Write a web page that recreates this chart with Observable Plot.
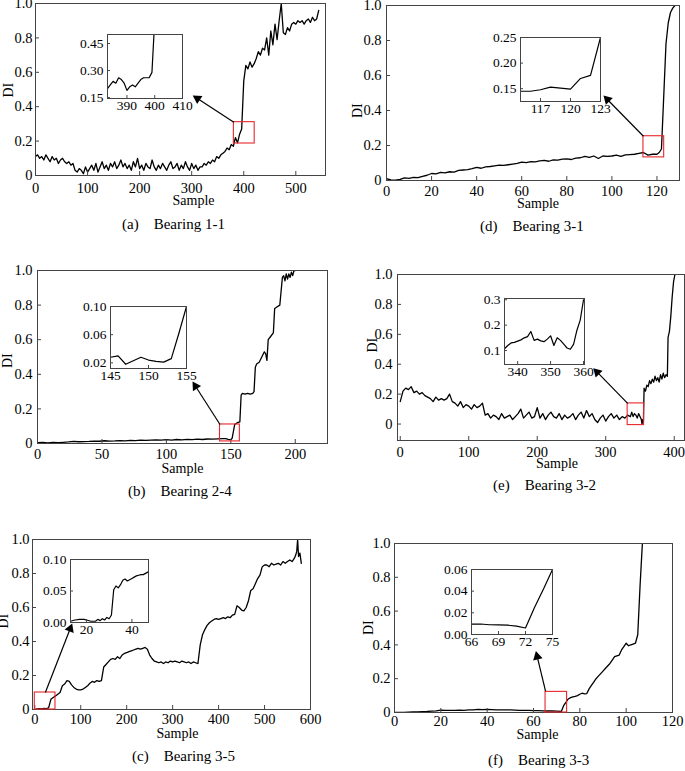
<!DOCTYPE html>
<html>
<head>
<meta charset="utf-8">
<script src="https://cdn.jsdelivr.net/npm/d3@7"></script>
<script src="https://cdn.jsdelivr.net/npm/@observablehq/plot@0.6"></script>
<style>
  body { margin: 0; background: #fff; overflow: hidden; }
  #fig { position: relative; width: 685px; height: 771px; overflow: hidden; font-family: "Liberation Serif", "Times New Roman", serif; }
  .cap { position: absolute; font-size: 15px; line-height: 15px; white-space: pre; color: #000; }
</style>
</head>
<body>
<div id="fig"></div>
<script>
// ---- Bearing 1-1 (a) ----
const a_step = 4
const a_di = [
  0.11,0.12,0.10,0.11,0.09,0.12,0.10,0.08,0.11,0.09,
  0.10,0.07,0.09,0.10,0.08,0.07,0.08,0.06,0.07,0.03,
  0.02,0.04,0.03,0.01,0.05,0.02,0.04,0.06,0.03,0.07,
  0.02,0.05,0.08,0.04,0.06,0.03,0.07,0.05,0.08,0.04,
  0.06,0.09,0.05,0.07,0.04,0.06,0.03,0.08,0.05,0.10,
  0.04,0.06,0.03,0.07,0.05,0.04,0.09,0.05,0.03,0.06,
  0.04,0.07,0.05,0.03,0.06,0.08,0.04,0.05,0.07,0.03,
  0.06,0.04,0.08,0.05,0.03,0.07,0.04,0.06,0.03,0.05,
  0.05,0.07,0.06,0.08,0.07,0.09,0.08,0.11,0.10,0.12,
  0.13,0.14,0.16,0.15,0.18,0.17,0.22,0.19,0.24,0.27,
  0.55,0.64,0.62,0.66,0.63,0.65,0.68,0.72,0.70,0.74,
  0.73,0.80,0.70,0.84,0.76,0.88,0.79,0.90,1.00,0.83,
  0.82,0.86,0.84,0.88,0.89,0.88,0.90,0.89,0.90,0.88,
  0.90,0.91,0.89,0.92,0.90,0.91,0.96]
const ai_x = [383,384,385,386,387,388,389,390,391,392,393,394,395,396,397,398,399,400,401]
const ai_y = [0.20,0.22,0.24,0.23,0.26,0.25,0.23,0.19,0.21,0.22,0.21,0.23,0.25,0.26,0.26,0.26,0.29,0.58,0.62]

// ---- Bearing 3-1 (d) ----
const d_step = 2
const d_di = [
  0.010,0.004,0.002,0.006,0.015,0.012,0.018,0.016,0.024,0.030,
  0.040,0.038,0.046,0.044,0.050,0.048,0.058,0.060,0.062,0.068,
  0.075,0.070,0.078,0.080,0.084,0.088,0.086,0.090,0.094,0.098,
  0.105,0.102,0.108,0.106,0.112,0.115,0.110,0.118,0.116,0.122,
  0.124,0.120,0.128,0.130,0.138,0.132,0.140,0.126,0.140,0.138,
  0.140,0.145,0.138,0.146,0.148,0.150,0.155,0.160]
const d_tailX = [116,118,120,121,122,124,125,126,127,128]
const d_tailY = [0.145,0.15,0.15,0.16,0.18,0.78,0.90,0.96,0.985,1.0]
const di_x = [115,116,117,118,119,120,121,122,123]
const di_y = [0.145,0.145,0.148,0.153,0.151,0.149,0.170,0.176,0.25]

// ---- Bearing 2-4 (b) ----
const b_step = 4
const b_di = [
  0.005,0.006,0.004,0.006,0.005,0.007,0.009,0.012,0.010,0.011,
  0.012,0.014,0.013,0.016,0.014,0.015,0.017,0.015,0.018,0.017,
  0.019,0.018,0.020,0.021,0.019,0.022,0.020,0.023,0.021,0.024,
  0.022,0.025,0.023,0.026,0.025,0.027,0.028]
const b_tailX = [146,148,150,151,153,155,157,158,159,161,163,165,167,168,169,170,172,174,176,177,
  178,179,181,183,184,186,188,189,190,191,192,193,194,195,196,197,198,199,200]
const b_tailY = [0.028,0.024,0.022,0.030,0.110,0.120,0.125,0.280,0.290,0.285,0.290,0.285,0.290,0.300,0.440,0.460,0.470,0.500,0.530,0.520,
  0.480,0.600,0.620,0.640,0.780,0.790,0.800,0.880,0.960,0.970,0.940,0.980,0.950,0.980,0.960,0.990,0.970,1.000,1.000]
const bi_x = [145,146,147,148,149,150,151,152,153,154,155]
const bi_y = [0.028,0.030,0.018,0.023,0.028,0.024,0.022,0.021,0.026,0.062,0.10]

// ---- Bearing 3-2 (e) ----
const e_step = 4
const e_di = [
  0.15,0.22,0.24,0.23,0.25,0.21,0.22,0.20,0.21,0.19,
  0.18,0.17,0.15,0.18,0.16,0.17,0.16,0.17,0.20,0.15,
  0.14,0.12,0.15,0.11,0.13,0.12,0.10,0.13,0.11,0.12,
  0.14,0.06,0.07,0.04,0.06,0.05,0.03,0.07,0.04,0.05,
  0.06,0.03,0.05,0.07,0.10,0.04,0.06,0.08,0.04,0.05,
  0.11,0.04,0.07,0.03,0.06,0.08,0.05,0.04,0.07,0.03,
  0.06,0.04,0.05,0.07,0.03,0.06,0.08,0.04,0.09,0.05,
  0.07,0.03,0.01,0.04,0.06,0.02,0.05,0.07,0.04,0.06,
  0.03,0.05,0.04,0.06]
const e_tailX = [336,338,340,342,344,346,348,350,352,353,354,355,356,358,360,362,364,366,368,370,
  372,374,376,378,380,382,384,386,388,390,391,393,395,397,399,401]
const e_tailY = [0.05,0.08,0.05,0.07,0.06,0.04,0.07,0.05,0.03,0.00,0.03,0.01,0.24,0.22,0.26,0.25,0.29,0.27,0.30,0.28,
  0.32,0.29,0.31,0.28,0.33,0.30,0.34,0.31,0.33,0.32,0.58,0.62,0.72,0.85,0.95,1.00]
const ei_x = [336,337,338,339,340,341,342,343,344,345,346,347,348,349,350,351,352,353,354,355,356,357,358,359,360]
const ei_y = [0.107,0.120,0.130,0.132,0.137,0.142,0.150,0.155,0.175,0.140,0.145,0.138,0.135,0.145,0.158,0.120,0.150,0.140,0.125,0.110,0.105,0.125,0.180,0.220,0.300]

// ---- Bearing 3-5 (c) ----
const c_step = 5
const c_di = [
  0.000,0.004,0.005,0.004,0.006,0.005,0.010,0.060,0.070,0.080,
  0.090,0.100,0.140,0.150,0.170,0.165,0.145,0.130,0.120,0.115,
  0.115,0.120,0.130,0.140,0.155,0.165,0.160,0.170,0.165,0.170,
  0.250,0.265,0.280,0.295,0.300,0.295,0.310,0.300,0.320,0.330,
  0.335,0.340,0.345,0.350,0.355,0.360,0.355,0.360,0.365,0.355,
  0.320,0.300,0.285,0.280,0.275,0.280,0.270,0.280,0.275,0.285,
  0.280,0.285,0.280,0.275,0.285,0.280,0.275,0.280,0.270,0.280,
  0.275,0.270,0.380,0.440,0.470,0.495,0.510,0.520,0.530,0.535,
  0.530,0.535,0.540,0.535,0.545,0.540,0.555,0.560,0.610,0.600,
  0.585,0.580,0.600,0.640,0.700,0.710,0.740,0.770,0.790,0.840,
  0.850,0.850,0.840,0.860,0.850,0.855,0.860,0.850,0.870,0.860,
  0.870,0.880,0.870,0.890]
const c_tailX = [568,570,572,574,577,580]
const c_tailY = [0.91,0.93,1.00,0.90,0.92,0.86]
const ci_x = [13,15,17,19,20,22,24,25,26,27,28,29,30,31,32,33,34,35,36,37,38,39,40,41,42,43,44,45,46,47,48]
const ci_y = [0.002,0.004,0.005,0.005,0.004,0.002,0.002,0.005,0.003,0.006,0.004,0.008,0.006,0.012,0.052,0.058,0.055,0.060,0.067,0.069,
  0.066,0.068,0.070,0.072,0.074,0.075,0.076,0.076,0.078,0.080,0.082]

// ---- Bearing 3-3 (f) ----
const f_step = 2
const f_di = [
  0.000,0.001,0.001,0.002,0.003,0.004,0.005,0.006,0.008,0.010,
  0.014,0.012,0.013,0.012,0.014,0.013,0.015,0.016,0.018,0.017,
  0.018,0.017,0.016,0.016,0.015,0.015,0.014,0.013,0.013,0.012,
  0.011,0.011,0.010,0.009,0.009,0.008,0.006]
const f_tailX = [73,74,75,76,77,78,79,80,81,82,83,84,85,86,87,88,89,90,91,92,93,94,95,96,97,98,99,100,101,102,103,104,105,106,107]
const f_tailY = [0.040,0.060,0.080,0.088,0.092,0.095,0.100,0.108,0.114,0.110,0.112,0.140,0.160,0.180,0.200,0.215,0.230,0.245,0.260,0.275,
  0.290,0.310,0.330,0.335,0.340,0.370,0.390,0.410,0.395,0.400,0.405,0.410,0.460,0.750,1.000]
const fi_x = [66,67,68,69,70,71,72,73,74,75]
const fi_y = [0.0095,0.0097,0.009,0.0088,0.0086,0.0078,0.006,0.025,0.042,0.060]

// zoom windows (red boxes) and arrows, in data units of the main panel
const zoomBoxes = {
  a: {x1: 381, x2: 421, y1: 0.186, y2: 0.31},
  d: {x1: 114, x2: 123.2, y1: 0.132, y2: 0.253},
  b: {x1: 141.6, x2: 157, y1: 0.012, y2: 0.11},
  e: {x1: 332, x2: 356, y1: -0.007, y2: 0.138},
  c: {x1: 0, x2: 45, y1: 0, y2: 0.1},
  f: {x1: 65.2, x2: 74.5, y1: 0, y2: 0.122}
}
const arrows = {
  a: {x1: 381, y1: 0.31, x2: 311, y2: 0.448},
  d: {x1: 114, y1: 0.253, x2: 98, y2: 0.463},
  b: {x1: 141.6, y1: 0.11, x2: 122.6, y2: 0.331},
  e: {x1: 332, y1: 0.138, x2: 287.5, y2: 0.347},
  c: {x1: 23, y1: 0.10, x2: 77, y2: 0.475},
  f: {x1: 65.2, y1: 0.126, x2: 61.6, y2: 0.331}
}
const yTicks = [0, 0.2, 0.4, 0.6, 0.8, 1.0]

const serif = '"Liberation Serif", "Times New Roman", serif'
const fig = document.getElementById('fig')

function series(step, values, tailX = [], tailY = []) {
  const pts = values.map((y, i) => ({x: i * step, y}))
  tailX.forEach((x, i) => pts.push({x, y: tailY[i]}))
  return pts
}
function pairs(xs, ys) { return xs.map((x, i) => ({x, y: ys[i]})) }

const panels = [
  {id: 'a', caption: '(a)    Bearing 1-1', cap: [122, 230], box: [35, 3, 325, 175],
   xDomain: [0, 557], yDomain: [0, 1], xTicks: [0, 100, 200, 300, 400, 500], pad: [7, 3],
   label: [13, 29, -27, 8], data: series(a_step, a_di),
   inset: {box: [107, 34, 182, 98], xDomain: [383, 410], yDomain: [0.145, 0.5],
     xTicks: [390, 400, 410], yTicks: [0.15, 0.30, 0.45], fmt: '.2f', data: pairs(ai_x, ai_y)}},
  {id: 'd', caption: '(d)    Bearing 3-1', cap: [480, 232], box: [386, 5, 679, 180],
   xDomain: [0, 130], yDomain: [0, 1], xTicks: [0, 20, 40, 60, 80, 100, 120], pad: [5, 5],
   label: [5, 27, -29, 25], data: series(d_step, d_di, d_tailX, d_tailY),
   inset: {box: [520, 37, 600, 101], xDomain: [115, 123], yDomain: [0.125, 0.25],
     xTicks: [117, 120, 123], yTicks: [0.15, 0.20, 0.25], fmt: '.2f', data: pairs(di_x, di_y)}},
  {id: 'b', caption: '(b)    Bearing 2-4', cap: [128, 497], box: [37, 270, 327, 443],
   xDomain: [0, 225], yDomain: [0, 1], xTicks: [0, 50, 100, 150, 200], pad: [5, 5],
   label: [0, 29, -30, 11], data: series(b_step, b_di, b_tailX, b_tailY),
   inset: {box: [110, 306, 186, 368], xDomain: [145, 155], yDomain: [0.012, 0.10],
     xTicks: [145, 150, 155], yTicks: [0.02, 0.06, 0.10], fmt: '.2f', data: pairs(bi_x, bi_y)}},
  {id: 'e', caption: '(e)    Bearing 3-2', cap: [493, 491], box: [397, 274, 684, 440],
   xDomain: [-4, 415], yDomain: [-0.11, 1], xTicks: [0, 100, 200, 300, 400], pad: [6, 5],
   label: [16, 27, -25, -5], data: series(e_step, e_di, e_tailX, e_tailY),
   inset: {box: [504, 298, 584, 364], xDomain: [336, 360.3], yDomain: [0.045, 0.305],
     xTicks: [340, 350, 360], yTicks: [0.1, 0.2, 0.3], fmt: '.1f', data: pairs(ei_x, ei_y)}},
  {id: 'c', caption: '(c)    Bearing 3-5', cap: [132, 762], box: [32, 539, 310, 709],
   xDomain: [-5, 600], yDomain: [0, 1], xTicks: [0, 100, 200, 300, 400, 500, 600], pad: [4, 3],
   label: [6, 28, -29, 4], data: series(c_step, c_di, c_tailX, c_tailY),
   inset: {box: [70, 559, 148, 622], xDomain: [13, 47.3], yDomain: [0, 0.10],
     xTicks: [20, 40], yTicks: [0, 0.05, 0.10], fmt: '.2f', data: pairs(ci_x, ci_y)}},
  {id: 'f', caption: '(f)    Bearing 3-3', cap: [488, 766], box: [394, 543, 672, 712],
   xDomain: [0, 120], yDomain: [0, 1], xTicks: [0, 20, 40, 60, 80, 100, 120], pad: [3, 4],
   label: [4, 26, -26, 7], data: series(f_step, f_di, f_tailX, f_tailY),
   inset: {box: [471, 569, 552, 634], xDomain: [66, 75], yDomain: [0, 0.06],
     xTicks: [66, 69, 72, 75], yTicks: [0, 0.02, 0.04, 0.06], fmt: '.2f', data: pairs(fi_x, fi_y)}}
]

function place(svg, left, top) {
  svg.style.position = 'absolute'
  svg.style.left = left + 'px'
  svg.style.top = top + 'px'
  fig.appendChild(svg)
}

function drawMain(p) {
  const [l, t, r, b] = p.box, fw = r - l, fh = b - t
  const m = {l: 45, r: 8, t: 8, b: 45}
  const A = arrows[p.id]
  // direction of the arrow on screen, for the filled head
  const sx = fw / (p.xDomain[1] - p.xDomain[0]), sy = fh / (p.yDomain[1] - p.yDomain[0])
  const headAngle = Math.atan2((A.x2 - A.x1) * sx, (A.y2 - A.y1) * sy) * 180 / Math.PI
  const svg = Plot.plot({
    width: fw + m.l + m.r, height: fh + m.t + m.b,
    marginLeft: m.l, marginRight: m.r, marginTop: m.t, marginBottom: m.b,
    x: {domain: p.xDomain},
    y: {domain: p.yDomain},
    style: {fontFamily: serif, fontSize: '14.5px', color: '#000', background: 'transparent', overflow: 'visible'},
    marks: [
      Plot.line(p.data, {x: 'x', y: 'y', stroke: '#000', strokeWidth: 1.3, clip: true}),
      Plot.tickX(p.xTicks, {x: d => d, insetTop: fh - 4, stroke: '#444'}),
      Plot.tickY(yTicks, {y: d => d, insetRight: fw - 4, stroke: '#444'}),
      Plot.frame({stroke: '#444'}),
      Plot.axisX(p.xTicks, {tickSize: 0, tickPadding: p.pad[0], label: null}),
      Plot.axisY(yTicks, {tickSize: 0, tickPadding: p.pad[1], label: null,
        tickFormat: d => d === 0 ? '0' : d.toFixed(1)}),
      Plot.rect([zoomBoxes[p.id]], {x1: 'x1', x2: 'x2', y1: 'y1', y2: 'y2',
        fill: 'none', stroke: '#e8262b', strokeWidth: 1.1}),
      Plot.link([A], {x1: 'x1', y1: 'y1', x2: 'x2', y2: 'y2', stroke: '#000', strokeWidth: 1.2}),
      Plot.dot([A], {x: 'x2', y: 'y2', symbol: 'triangle', r: 3.6, fill: '#000', stroke: 'none', rotate: headAngle}),
      Plot.text(['Sample'], {text: d => d, frameAnchor: 'bottom', dx: p.label[0], dy: p.label[1], fontSize: 14}),
      Plot.text(['DI'], {text: d => d, frameAnchor: 'left', rotate: -90, dx: p.label[2], dy: p.label[3], fontSize: 14})
    ]
  })
  place(svg, l - m.l, t - m.t)
}

function drawInset(p) {
  const q = p.inset
  const [l, t, r, b] = q.box, fw = r - l, fh = b - t
  const m = {l: 40, r: 8, t: 6, b: 24}
  const svg = Plot.plot({
    width: fw + m.l + m.r, height: fh + m.t + m.b,
    marginLeft: m.l, marginRight: m.r, marginTop: m.t, marginBottom: m.b,
    x: {domain: q.xDomain},
    y: {domain: q.yDomain},
    style: {fontFamily: serif, fontSize: '13.5px', color: '#000', background: 'transparent', overflow: 'visible'},
    marks: [
      Plot.frame({fill: 'white'}),
      Plot.line(q.data, {x: 'x', y: 'y', stroke: '#000', strokeWidth: 1.2, clip: true}),
      Plot.tickX(q.xTicks, {x: d => d, insetTop: fh - 3, stroke: '#444'}),
      Plot.tickY(q.yTicks, {y: d => d, insetRight: fw - 3, stroke: '#444'}),
      Plot.frame({stroke: '#444'}),
      Plot.axisX(q.xTicks, {tickSize: 0, tickPadding: 2, label: null}),
      Plot.axisY(q.yTicks, {tickSize: 0, tickPadding: 4, label: null, tickFormat: d3.format(q.fmt)})
    ]
  })
  place(svg, l - m.l, t - m.t)
}

panels.forEach(p => {
  drawMain(p)
  drawInset(p)
  const cap = document.createElement('div')
  cap.className = 'cap'
  cap.textContent = p.caption
  cap.style.left = p.cap[0] + 'px'
  cap.style.top = (p.cap[1] - 12.6) + 'px'
  fig.appendChild(cap)
})
</script>
</body>
</html>
